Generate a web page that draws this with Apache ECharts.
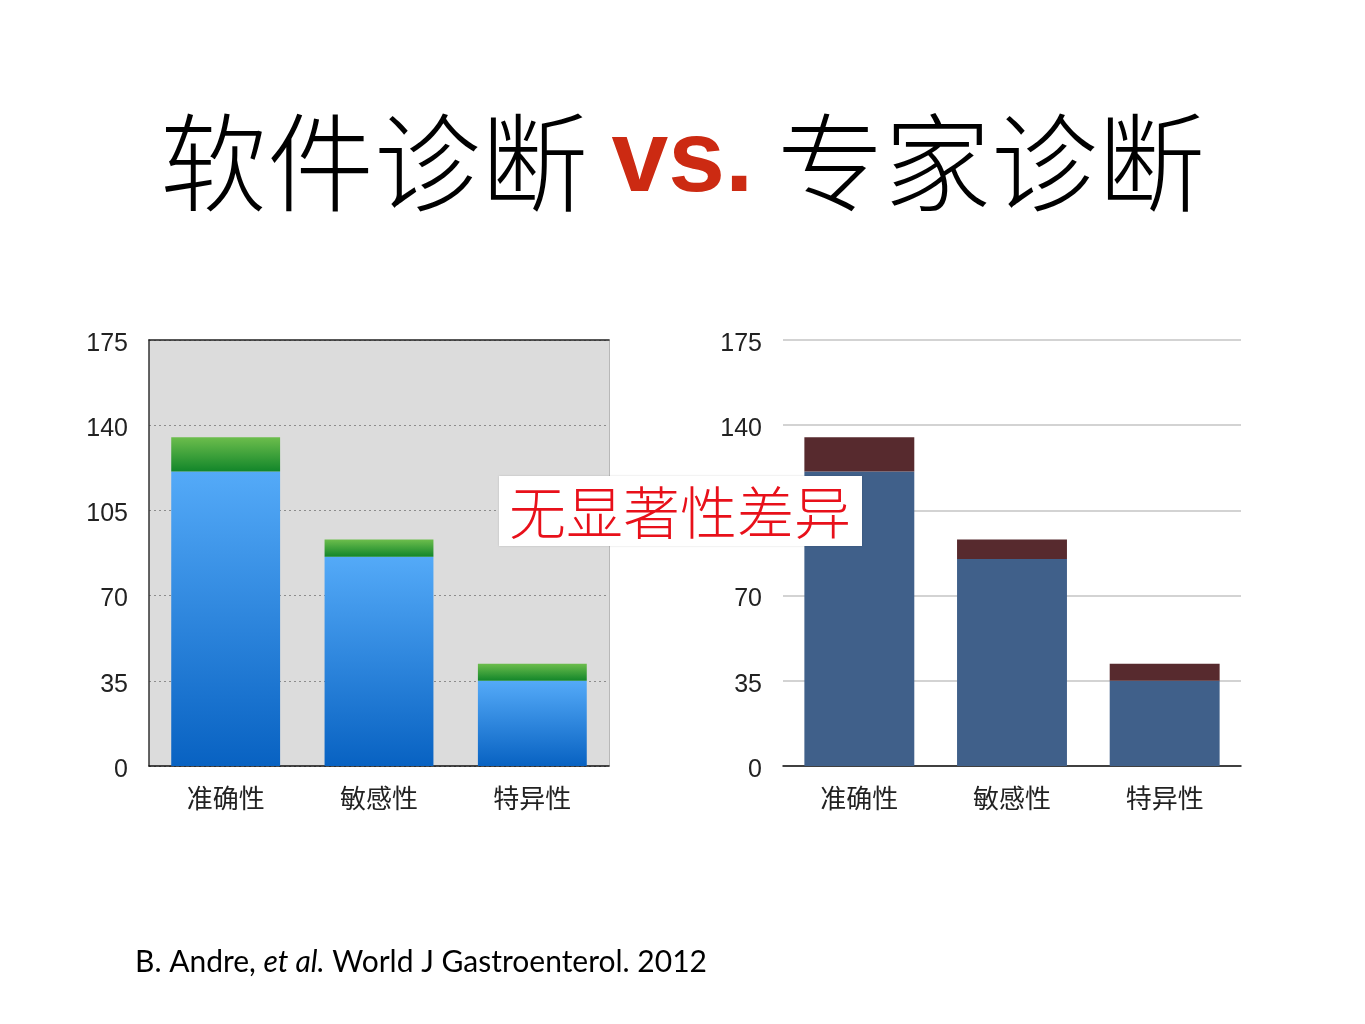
<!DOCTYPE html>
<html><head><meta charset="utf-8">
<script src="https://cdn.jsdelivr.net/npm/echarts@6/dist/echarts.min.js"></script>
<style>html,body{margin:0;padding:0;background:#fff}#c{width:1365px;height:1024px}</style>
</head><body><div id="c"></div>
<script>
const categories = ['准确性', '敏感性', '特异性'];
const yTicks = [0, 35, 70, 105, 140, 175];
const softwareBase = [121, 86, 35];
const softwareTop = [14, 7, 7];
const expertBase = [121, 85, 35];
const expertTop = [14, 8, 7];

const chart = echarts.init(document.getElementById('c'));
const lblFont = '"Liberation Sans", Arial, sans-serif';
const cjk = '"Noto Sans CJK SC", sans-serif';

function grad(a, b) {
  return new echarts.graphic.LinearGradient(0, 0, 0, 1, [{offset: 0, color: a}, {offset: 1, color: b}]);
}
const yBase = {
  type: 'value', min: yTicks[0], max: yTicks[yTicks.length - 1], interval: 35,
  axisTick: {show: false},
  axisLabel: {margin: 21, formatter: v => '{v|' + v + '}',
    rich: {v: {fontSize: 25, color: '#222', fontFamily: lblFont, padding: [8, 0, 0, 0]}}}
};
const xBase = {
  type: 'category', data: categories,
  axisTick: {show: false},
  axisLabel: {fontSize: 26, color: '#222', fontFamily: cjk, margin: 19},
  axisLine: {show: true, lineStyle: {color: '#111', width: 1.5}}
};

chart.setOption({
  backgroundColor: '#fff',
  animation: false,
  title: {
    left: 'center', top: 104,
    text: '{a|软件诊断 }{b|vs.}{a| 专家诊断}',
    textStyle: {
      rich: {
        a: {fontFamily: cjk, fontSize: 107, fontWeight: 300, color: '#000'},
        b: {fontFamily: '"Liberation Sans", Arial, sans-serif', fontSize: 102, fontWeight: 'bold', color: '#cc2a12'}
      }
    }
  },
  grid: [
    {left: 149, top: 340, width: 460, height: 426, show: true, backgroundColor: '#dcdcdc', borderWidth: 0},
    {left: 783, top: 340, width: 458, height: 426, show: false}
  ],
  xAxis: [
    Object.assign({}, xBase, {gridIndex: 0}),
    Object.assign({}, xBase, {gridIndex: 1}),
    {type: 'category', data: categories, gridIndex: 0, position: 'top', axisTick: {show: false},
     axisLabel: {show: false}, axisLine: {show: true, onZero: false, lineStyle: {color: '#222', width: 1.5}}}
  ],
  yAxis: [
    Object.assign({}, yBase, {gridIndex: 0,
      axisLine: {show: true, lineStyle: {color: '#333', width: 1.5}},
      splitLine: {show: true, lineStyle: {color: '#8c8c8c', type: [2, 3], width: 1.2}}}),
    Object.assign({}, yBase, {gridIndex: 1,
      axisLine: {show: false},
      splitLine: {show: true, lineStyle: {color: '#c4c4c4', type: 'solid', width: 1.5}}}),
    {type: 'value', gridIndex: 0, position: 'right', min: 0, max: 175, interval: 35,
     axisLabel: {show: false}, axisTick: {show: false}, splitLine: {show: false},
     axisLine: {show: true, onZero: false, lineStyle: {color: '#b8b8b8', width: 1}}}
  ],
  series: [
    {type: 'bar', xAxisIndex: 0, yAxisIndex: 0, stack: 's', barCategoryGap: '29%', data: softwareBase,
     itemStyle: {color: grad('#54aaf8', '#0862c2')}, z: 3},
    {type: 'bar', xAxisIndex: 0, yAxisIndex: 0, stack: 's', barCategoryGap: '29%', data: softwareTop,
     itemStyle: {color: grad('#6cbd4c', '#12862a')}, z: 3},
    {type: 'bar', xAxisIndex: 1, yAxisIndex: 1, stack: 'e', barCategoryGap: '28%', data: expertBase,
     itemStyle: {color: '#40608a'}, z: 3},
    {type: 'bar', xAxisIndex: 1, yAxisIndex: 1, stack: 'e', barCategoryGap: '28%', data: expertTop,
     itemStyle: {color: '#572a2e'}, z: 3}
  ],
  graphic: [
    {type: 'group', left: 499, top: 476, zlevel: 1, z: 100, children: [
      {type: 'rect', zlevel: 1, shape: {x: 0, y: 0, width: 363, height: 70}, style: {fill: '#fff', shadowBlur: 2, shadowColor: 'rgba(0,0,0,0.15)'}},
      {type: 'text', zlevel: 1, x: 181, y: 36, style: {text: '无显著性差异', fill: '#e8101a', font: '300 57px "Noto Sans CJK SC", sans-serif', textAlign: 'center', textVerticalAlign: 'middle'}}
    ]},
    {type: 'text', left: 135, top: 947, z: 100, style: {
      text: '{n|B. Andre, }{i|et al.}{n| World J Gastroenterol. 2012}',
      rich: {
        n: {fontFamily: 'Lato, sans-serif', fontSize: 30, fill: '#000', color: '#000'},
        i: {fontFamily: 'Lato, sans-serif', fontSize: 30, fontStyle: 'italic', fill: '#000', color: '#000'}
      }
    }}
  ]
});
</script></body></html>
